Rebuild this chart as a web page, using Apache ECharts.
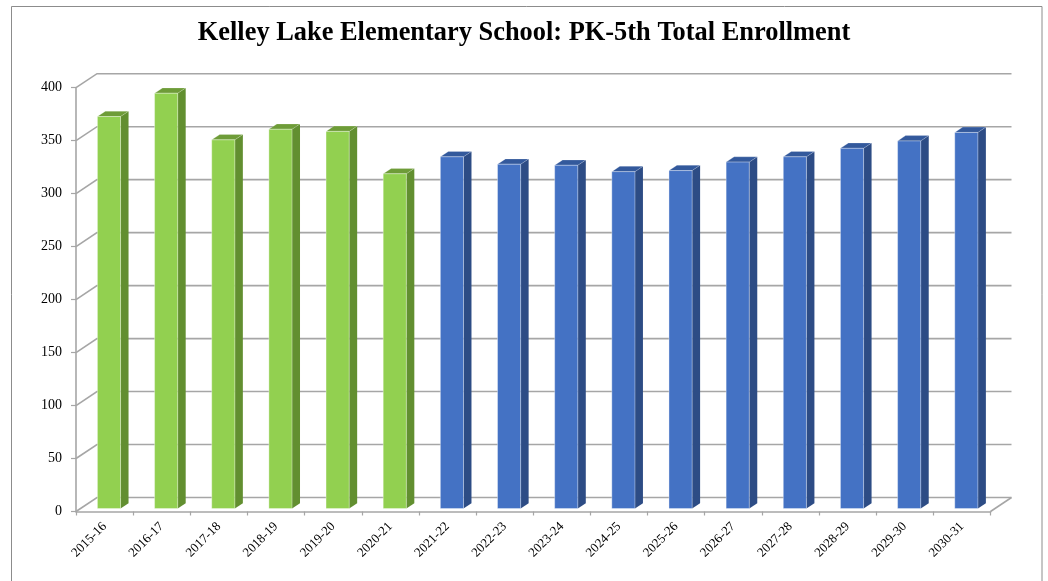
<!DOCTYPE html>
<html>
<head>
<meta charset="utf-8">
<script src="https://cdn.jsdelivr.net/npm/echarts@6/dist/echarts.min.js"></script>
<style>
html,body{margin:0;padding:0;background:#fff;}
#chart{width:1048px;height:581px;}
</style>
</head>
<body>
<div id="chart"></div>
<script>
// ---- data ----
const categories = ['2015-16','2016-17','2017-18','2018-19','2019-20','2020-21','2021-22','2022-23','2023-24','2024-25','2025-26','2026-27','2027-28','2028-29','2029-30','2030-31'];
const actual = [370, 392, 348, 358, 356, 316];            // 2015-16 .. 2020-21
const projected = [332, 325, 324, 318, 319, 327, 332, 340, 347, 355]; // 2021-22 .. 2030-31
const yTicks = [0, 50, 100, 150, 200, 250, 300, 350, 400];
const titleText = 'Kelley Lake Elementary School: PK-5th Total Enrollment';

// ---- drawing ----
const DX = 21, DY = -14;          // depth of the 3D box
const FRONT = 0.21, DEPTH = 0.38; // bar placement within depth

const actualData = actual.map((v, i) => [i, v]);
const projectedData = projected.map((v, i) => [i + actual.length, v]);
const gridData = yTicks.map(v => [0, v]);

function barRenderer(front, side, top) {
  return function (params, api) {
    const i = api.value(0), v = api.value(1);
    const base = api.coord([i, 0]);
    const tp = api.coord([i, v]);
    const band = api.size([1, 0])[0];
    const fw = band * 0.405;
    const ox = DX * FRONT, oy = DY * FRONT;
    const sx = DX * DEPTH, sy = DY * DEPTH;
    const x1 = base[0] + ox - fw / 2, x2 = x1 + fw;
    const yb = base[1] + oy, yt = tp[1] + oy;
    return {
      type: 'group',
      children: [
        { type: 'polygon', shape: { points: [[x2, yt], [x2 + sx, yt + sy], [x2 + sx, yb + sy], [x2, yb]] },
          style: { fill: side } },
        { type: 'polygon', shape: { points: [[x1, yt], [x2, yt], [x2 + sx, yt + sy], [x1 + sx, yt + sy]] },
          style: { fill: top, stroke: 'rgba(255,255,255,0.35)', lineWidth: 0.6 } },
        { type: 'rect', shape: { x: x1, y: yt, width: fw, height: yb - yt },
          style: { fill: front, stroke: 'rgba(255,255,255,0.45)', lineWidth: 0.8 } }
      ]
    };
  };
}

function gridRenderer(params, api) {
  const cs = params.coordSys;
  const v = api.value(1);
  const y = api.coord([0, v])[1];
  const gx = cs.x, gw = cs.width;
  const style = { stroke: '#a6a6a6', lineWidth: 1.6, fill: null };
  const children = [
    { type: 'polyline', shape: { points: [[gx, y], [gx + DX, y + DY], [gx + gw + DX, y + DY]] }, style: style }
  ];
  if (v === 0) {
    children.push({ type: 'polyline', shape: { points: [[gx + gw, y], [gx + gw + DX, y + DY]] }, style: style });
  }
  return { type: 'group', children: children };
}

const chart = echarts.init(document.getElementById('chart'), null, { renderer: 'canvas' });
chart.setOption({
  animation: false,
  backgroundColor: '#fff',
  title: {
    text: titleText,
    left: 'center',
    top: 15,
    textStyle: { fontFamily: 'Liberation Serif', fontWeight: 'bold', fontSize: 26.4, color: '#000' }
  },
  graphic: [{
    type: 'rect', z: -10, silent: true,
    shape: { x: 11.5, y: 6.5, width: 1030.5, height: 620 },
    style: { fill: null, stroke: '#8c8c8c', lineWidth: 1 }
  }],
  grid: { left: 76, right: 57.5, top: 87.7, bottom: 69.5 },
  xAxis: {
    type: 'category',
    data: categories,
    boundaryGap: true,
    axisLine: { show: true, lineStyle: { color: '#a6a6a6', width: 1.6 } },
    axisTick: { show: true, length: 4, lineStyle: { color: '#a6a6a6', width: 1.2 } },
    axisLabel: { rotate: 45, margin: 13, fontFamily: 'Liberation Serif', fontSize: 13, color: '#000', interval: 0 },
    splitLine: { show: false }
  },
  yAxis: {
    type: 'value',
    min: 0, max: 400, interval: 50,
    axisLine: { show: true, lineStyle: { color: '#a6a6a6', width: 1.6 } },
    axisTick: { show: true, length: 5, lineStyle: { color: '#a6a6a6', width: 1.2 } },
    axisLabel: { margin: 14, fontFamily: 'Liberation Serif', fontSize: 14, color: '#000' },
    splitLine: { show: false }
  },
  series: [
    { type: 'custom', name: 'grid', z: 1, silent: true, data: gridData, encode: { x: 0, y: 1 }, renderItem: gridRenderer },
    { type: 'custom', name: 'Actual', z: 3, data: actualData, encode: { x: 0, y: 1 },
      renderItem: barRenderer('#92d050', '#628f30', '#6e9c38') },
    { type: 'custom', name: 'Projected', z: 3, data: projectedData, encode: { x: 0, y: 1 },
      renderItem: barRenderer('#4472c4', '#2d4c85', '#33599c') }
  ]
});
</script>
</body>
</html>
